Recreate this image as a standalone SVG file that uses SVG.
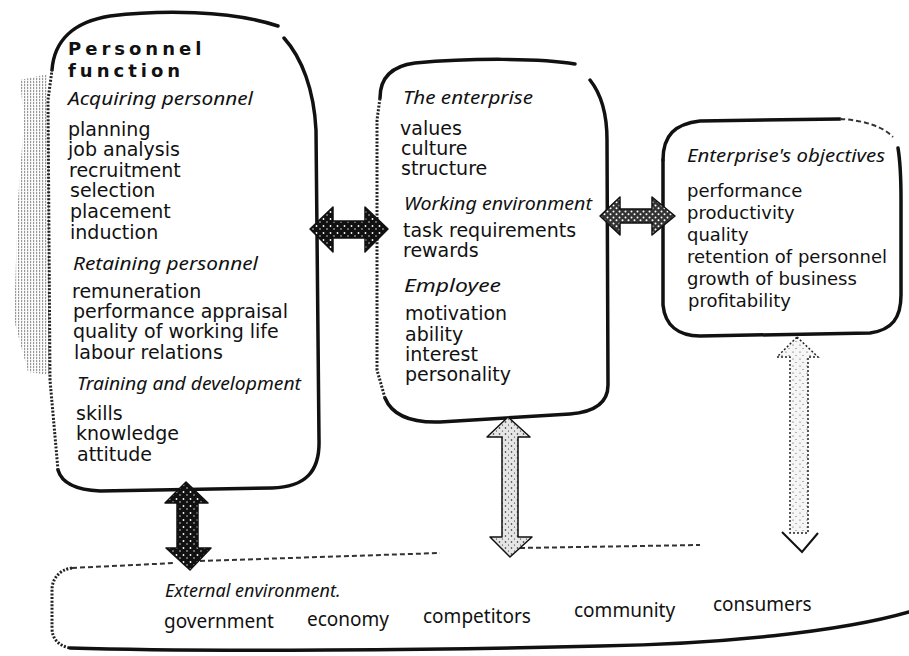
<svg xmlns="http://www.w3.org/2000/svg" width="909" height="656" viewBox="0 0 909 656">
<defs>
<style>
.t{font-family:"DejaVu Sans",sans-serif;font-size:19px;fill:#111}
.r{font-family:"DejaVu Sans",sans-serif;font-size:18px;fill:#111}
.h{font-family:"Noto Sans",sans-serif;font-style:italic;font-size:18px;fill:#111}
.ti{font-family:"DejaVu Sans",sans-serif;font-weight:bold;font-size:18px;letter-spacing:4px;fill:#111}
.b{font-family:"Noto Sans",sans-serif;font-size:19px;fill:#111}
.bi{font-family:"Noto Sans",sans-serif;font-style:italic;font-size:18px;fill:#111}
.edge{fill:none;stroke:#111;stroke-width:3.5;stroke-linecap:round;stroke-linejoin:round}
.stip{fill:none;stroke:#222;stroke-width:3;stroke-dasharray:2 1.6}
.dash{fill:none;stroke:#333;stroke-width:2;stroke-dasharray:5 3}
.ahd{stroke:#111;stroke-width:1.5;stroke-linejoin:round;fill:url(#speckDark)}
.ahm{stroke:#111;stroke-width:1.5;stroke-linejoin:round;fill:url(#speckMid)}
.ahl{stroke:#111;stroke-width:1.5;stroke-linejoin:round;fill:url(#speckLight)}
.ahv{stroke:#222;stroke-width:1.5;stroke-dasharray:2 2;fill:url(#speckFaint)}
</style>
<pattern id="speckDark" width="7" height="7" patternUnits="userSpaceOnUse">
<rect width="7" height="7" fill="#111"/>
<circle cx="1.5" cy="2" r="0.9" fill="#fff"/><circle cx="5" cy="5" r="0.7" fill="#fff"/>
</pattern>
<pattern id="speckMid" width="6" height="6" patternUnits="userSpaceOnUse">
<rect width="6" height="6" fill="#333"/>
<circle cx="1.5" cy="1.5" r="1" fill="#fff"/><circle cx="4.5" cy="4.2" r="1" fill="#fff"/>
</pattern>
<pattern id="speckLight" width="6" height="6" patternUnits="userSpaceOnUse">
<rect width="6" height="6" fill="#e6e6e6"/>
<circle cx="1.5" cy="2" r="0.8" fill="#222"/><circle cx="4.5" cy="5" r="0.6" fill="#222"/>
</pattern>
<pattern id="speckFaint" width="7" height="7" patternUnits="userSpaceOnUse">
<rect width="7" height="7" fill="#f6f6f6"/>
<circle cx="2" cy="2" r="0.6" fill="#444"/><circle cx="5" cy="5.5" r="0.5" fill="#444"/>
</pattern>
<pattern id="halftone" width="3" height="3" patternUnits="userSpaceOnUse">
<rect width="1.2" height="2.2" fill="#444"/>
</pattern>
</defs>
<rect width="909" height="656" fill="#fff"/>

<g id="personnel-function">
<path d="M20,80 L48,74 L50,375 L28,372 L14,320 L18,200 L24,120 Z" fill="url(#halftone)" opacity="0.55"/>
<path class="edge" d="M52,70 C54,42 72,22 110,16 C160,10 230,10 278,26"/>
<path class="edge" d="M284,38 C302,58 314,90 316,130 L319,440 C320,472 305,487 272,488 L100,491 C78,490 62,484 58,470"/>
<path class="stip" d="M58,470 L50,380 L48,100 L52,70"/>
<text class="ti" x="68" y="55">Personnel</text>
<text class="ti" x="68" y="77">function</text>
<text class="h" x="68" y="105" textLength="185" lengthAdjust="spacingAndGlyphs">Acquiring personnel</text>
<text class="t" x="68" y="136">planning</text>
<text class="t" x="68" y="156">job analysis</text>
<text class="t" x="69" y="177">recruitment</text>
<text class="t" x="70" y="197">selection</text>
<text class="t" x="70" y="218">placement</text>
<text class="t" x="70" y="239">induction</text>
<text class="h" x="73" y="270" textLength="185" lengthAdjust="spacingAndGlyphs">Retaining personnel</text>
<text class="t" x="72" y="298">remuneration</text>
<text class="t" x="73" y="318">performance appraisal</text>
<text class="t" x="73" y="338">quality of working life</text>
<text class="t" x="74" y="359">labour relations</text>
<text class="h" x="77" y="390" textLength="224" lengthAdjust="spacingAndGlyphs">Training and development</text>
<text class="t" x="76" y="420">skills</text>
<text class="t" x="76" y="440">knowledge</text>
<text class="t" x="77" y="461">attitude</text>
</g>

<g id="enterprise">
<path class="edge" d="M380,98 C380,78 392,66 415,63 C470,58 540,58 575,64"/>
<path class="edge" d="M590,80 C602,95 607,115 607,140 L608,385 C608,402 595,412 570,414 L440,422 C410,423 392,415 385,398"/>
<path class="stip" d="M385,398 L377,370 L377,120 L380,98"/>
<text class="h" x="403" y="104" textLength="130" lengthAdjust="spacingAndGlyphs">The enterprise</text>
<text class="t" x="400" y="135">values</text>
<text class="t" x="401" y="155">culture</text>
<text class="t" x="401" y="175">structure</text>
<text class="h" x="404" y="210" textLength="188" lengthAdjust="spacingAndGlyphs">Working environment</text>
<text class="t" x="403" y="237">task requirements</text>
<text class="t" x="403" y="257">rewards</text>
<text class="h" x="404" y="292" textLength="97" lengthAdjust="spacingAndGlyphs">Employee</text>
<text class="t" x="405" y="320">motivation</text>
<text class="t" x="405" y="341">ability</text>
<text class="t" x="405" y="361">interest</text>
<text class="t" x="405" y="381">personality</text>
</g>

<g id="objectives">
<path class="edge" d="M663,160 C663,135 675,124 700,121 L840,119"/>
<path class="dash" d="M840,119 C865,120 885,128 893,137"/>
<path class="edge" d="M898,148 C900,160 901,180 901,200 L901,295 C901,318 892,330 870,333 L700,336 C678,336 665,325 663,305 L663,160"/>
<text class="h" x="687" y="162" textLength="198" lengthAdjust="spacingAndGlyphs">Enterprise's objectives</text>
<text class="r" x="687" y="197">performance</text>
<text class="r" x="687" y="219">productivity</text>
<text class="r" x="687" y="241">quality</text>
<text class="r" x="687" y="263">retention of personnel</text>
<text class="r" x="687" y="285">growth of business</text>
<text class="r" x="688" y="307">profitability</text>
</g>

<g id="external-environment">
<path class="stip" d="M72,568 C58,570 52,580 52,590 L52,628 C52,640 60,646 70,648"/>
<path class="edge" d="M70,648 C200,652 450,650 600,646 C720,644 840,632 909,612"/>
<path class="dash" d="M72,568 L175,563 M200,561 L440,553 M520,548 L700,545"/>
<text class="bi" x="165" y="597">External environment.</text>
<text class="b" x="164" y="628">government</text>
<text class="b" x="307" y="626">economy</text>
<text class="b" x="423" y="623">competitors</text>
<text class="b" x="574" y="617">community</text>
<text class="b" x="713" y="611">consumers</text>
</g>

<g id="connectors">
<polygon class="ahd" points="310,229 333,207 333,221 365,221 365,207 388,229 365,252 365,238 333,238 333,252"/>
<polygon class="ahm" points="600,216 620,197 620,209 652,209 652,197 675,216 652,235 652,223 620,223 620,235"/>
<polygon class="ahd" points="186,482 208,503 198,503 198,548 211,548 190,570 166,548 177,548 177,503 165,503"/>
<polygon class="ahl" points="508,417 530,437 518,437 518,537 532,537 510,557 490,537 502,537 502,437 487,437"/>
<polygon class="ahv" points="797,337 818,357 808,357 808,533 790,533 790,357 777,357"/>
<polyline points="782,532 802,552 818,533" fill="none" stroke="#111" stroke-width="2"/>
</g>
</svg>
